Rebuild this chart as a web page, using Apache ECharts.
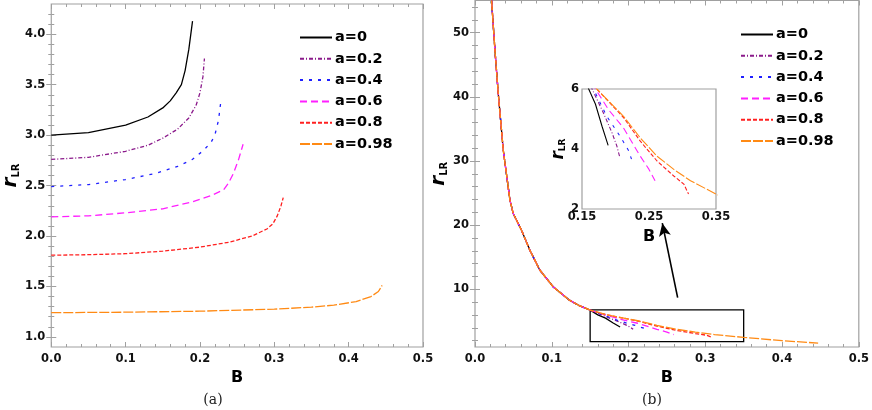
<!DOCTYPE html>
<html>
<head>
<meta charset="UTF-8">
<title>r_LR vs B</title>
<script src="https://cdn.jsdelivr.net/npm/echarts@6/dist/echarts.min.js"></script>
<style>
html, body { margin: 0; padding: 0; background: #fff; }
#main { width: 872px; height: 410px; }
</style>
</head>
<body>
<div id="main"></div>
<script>
var names = ['a=0', 'a=0.2', 'a=0.4', 'a=0.6', 'a=0.8', 'a=0.98'];

// panel (a): [B, r_LR]
var left_a0 = [[0, 3.0], [0.05, 3.025], [0.1, 3.1], [0.13, 3.18], [0.15, 3.27], [0.16, 3.34], [0.168, 3.42], [0.175, 3.5], [0.18, 3.64], [0.185, 3.85], [0.19, 4.13]];
var left_a2 = [[0, 2.76], [0.05, 2.78], [0.1, 2.84], [0.13, 2.9], [0.15, 2.97], [0.17, 3.06], [0.185, 3.17], [0.195, 3.3], [0.2, 3.42], [0.204, 3.58], [0.206, 3.76]];
var left_a4 = [[0, 2.49], [0.05, 2.51], [0.1, 2.56], [0.14, 2.62], [0.17, 2.69], [0.19, 2.76], [0.205, 2.85], [0.215, 2.93], [0.22, 3.0], [0.225, 3.15], [0.228, 3.33]];
var left_a6 = [[0, 2.19], [0.05, 2.2], [0.1, 2.23], [0.15, 2.27], [0.19, 2.34], [0.215, 2.4], [0.232, 2.46], [0.238, 2.52], [0.245, 2.62], [0.252, 2.76], [0.258, 2.91]];
var left_a8 = [[0, 1.81], [0.05, 1.815], [0.1, 1.825], [0.15, 1.85], [0.2, 1.89], [0.24, 1.94], [0.27, 2.0], [0.29, 2.07], [0.298, 2.12], [0.304, 2.2], [0.309, 2.3], [0.312, 2.38]];
var left_a98 = [[0, 1.24], [0.1, 1.245], [0.2, 1.255], [0.3, 1.275], [0.35, 1.295], [0.38, 1.315], [0.41, 1.35], [0.43, 1.4], [0.44, 1.45], [0.445, 1.51]];

// panel (b): common upper branch, then each curve's own tail
var right_head = [[0.0216, 55], [0.026, 47.2], [0.0303, 40.5], [0.0368, 31.7], [0.0455, 23.9], [0.0498, 21.8], [0.0606, 19.2], [0.0714, 16.1], [0.0844, 13.0], [0.1017, 10.4], [0.123, 8.3], [0.135, 7.5], [0.15, 6.75]];
var right_a0 = [[0.16, 6.0], [0.17, 5.5], [0.18, 4.75], [0.189, 4.12]];
var right_a2 = [[0.165, 6.0], [0.182, 5.2], [0.195, 4.53], [0.202, 4.1], [0.206, 3.76]];
var right_a4 = [[0.167, 6.0], [0.187, 5.09], [0.207, 4.42], [0.22, 3.93], [0.226, 3.51]];
var right_a6 = [[0.17, 6.0], [0.19, 5.3], [0.212, 4.7], [0.237, 3.76], [0.25, 3.32], [0.259, 2.94]];
var right_a8 = [[0.172, 6.0], [0.212, 5.05], [0.237, 4.26], [0.262, 3.6], [0.287, 3.1], [0.302, 2.83], [0.309, 2.5]];
var right_a98 = [[0.172, 6.0], [0.212, 5.09], [0.237, 4.37], [0.262, 3.76], [0.287, 3.32], [0.312, 2.94], [0.35, 2.5], [0.4, 1.98], [0.435, 1.7], [0.447, 1.6]];

// zoom box and arrow in panel (b)
var zoomBox = [[0.15, 1.85], [0.35, 6.8]];
var arrowLine = [[0.264, 8.7], [0.244, 20.3]];

// ticks
var xTicks = [0, 0.1, 0.2, 0.3, 0.4, 0.5];
var xMinor = [0.02, 0.04, 0.06, 0.08, 0.12, 0.14, 0.16, 0.18, 0.22, 0.24, 0.26, 0.28, 0.32, 0.34, 0.36, 0.38, 0.42, 0.44, 0.46, 0.48];
var leftYTicks = [1.0, 1.5, 2.0, 2.5, 3.0, 3.5, 4.0];
var leftYMinor = [1.1, 1.2, 1.3, 1.4, 1.6, 1.7, 1.8, 1.9, 2.1, 2.2, 2.3, 2.4, 2.6, 2.7, 2.8, 2.9, 3.1, 3.2, 3.3, 3.4, 3.6, 3.7, 3.8, 3.9, 4.1, 4.2];
var rightYTicks = [10, 20, 30, 40, 50];
var rightYMinor = [2, 4, 6, 8, 12, 14, 16, 18, 22, 24, 26, 28, 32, 34, 36, 38, 42, 44, 46, 48, 52, 54];
var insetXTicks = [0.15, 0.25, 0.35];
var insetYTicks = [2, 4, 6];

var colors = ['#000000', '#8b1a8b', '#1f1fff', '#ff1fff', '#ff2020', '#ff8a14'];
var dashes = ['solid', [4, 2, 1, 2], [3, 6], [7, 4], [4, 2], [10, 2]];

var FONT = 'DejaVu Sans';
var FRAME = '#a0a0a0';

var leftData = [left_a0, left_a2, left_a4, left_a6, left_a8, left_a98];
var rightTails = [right_a0, right_a2, right_a4, right_a6, right_a8, right_a98];

function rName(size, sub) {
    return {
        name: '{r|r}{s|LR}',
        nameTextStyle: {
            rich: {
                r: { fontFamily: FONT, fontStyle: 'italic', fontWeight: 'bold', fontSize: size, color: '#000' },
                s: { fontFamily: FONT, fontWeight: 'bold', fontSize: sub, color: '#000', verticalAlign: 'bottom', padding: [size * 0.35, 0, 0, 0] }
            }
        }
    };
}

// one side of a frame: major ticks (+labels) and a second axis for minor ticks
function side(grid, pos, min, max, major, minor, labels, fmt, extra) {
    var base = {
        gridIndex: grid, type: 'value', position: pos, min: min, max: max,
        axisLine: { show: false }, splitLine: { show: false }
    };
    var main = Object.assign({}, base, {
        axisTick: { show: major.length > 0, inside: true, length: 5, customValues: major, lineStyle: { color: FRAME } },
        axisLabel: {
            show: labels, customValues: major, formatter: fmt, margin: 6,
            fontFamily: FONT, fontWeight: 'bold', fontSize: 11.5, color: '#111'
        }
    }, extra || {});
    var out = [main];
    if (minor) {
        out.push(Object.assign({}, base, {
            axisTick: { show: true, inside: true, length: 3, customValues: minor, lineStyle: { color: FRAME } },
            axisLabel: { show: false }
        }));
    }
    return out;
}

var fx1 = function (v) { return v.toFixed(1); };
var fx2 = function (v) { return v.toFixed(2); };
var fint = function (v) { return String(Math.round(v)); };

var bName = {
    name: 'B', nameLocation: 'middle', nameGap: 21,
    nameTextStyle: { fontFamily: FONT, fontWeight: 'bold', fontSize: 16, color: '#000' }
};

var xAxes = [].concat(
    side(0, 'bottom', 0, 0.5, xTicks, xMinor, true, fx1, bName),            // 0,1
    side(0, 'top', 0, 0.5, xTicks, xMinor, false),                          // 2,3
    side(1, 'bottom', 0, 0.5, xTicks, xMinor, true, fx1, bName),            // 4,5
    side(1, 'top', 0, 0.5, xTicks, xMinor, false),                          // 6,7
    side(2, 'bottom', 0.15, 0.35, insetXTicks, null, true, fx2,
        Object.assign({}, bName, { nameGap: 20 }))                          // 8
);
xAxes[8].axisTick.show = false;
xAxes[8].axisLabel.margin = 2;

var yAxes = [].concat(
    side(0, 'left', 0.9, 4.3, leftYTicks, leftYMinor, true, fx1,
        Object.assign({ nameLocation: 'middle', nameGap: 24, nameRotate: 90 }, rName(20, 10))),   // 0,1
    side(0, 'right', 0.9, 4.3, leftYTicks, leftYMinor, false),                                     // 2,3
    side(1, 'left', 1, 55, rightYTicks, rightYMinor, true, fint,
        Object.assign({ nameLocation: 'middle', nameGap: 22, nameRotate: 90 }, rName(20, 10))),   // 4,5
    side(1, 'right', 1, 55, rightYTicks, rightYMinor, false),                                      // 6,7
    side(2, 'left', 2, 6, insetYTicks, null, true, fint,
        Object.assign({ nameLocation: 'middle', nameGap: 9, nameRotate: 90 }, rName(17, 9)))      // 8
);
yAxes[8].axisTick.show = false;
yAxes[8].axisLabel.margin = 3;

function lineSeries(i, data, xi, yi, width, z) {
    return {
        name: names[i], type: 'line', xAxisIndex: xi, yAxisIndex: yi,
        data: data, symbol: 'none', clip: true, z: z + i,
        lineStyle: { color: colors[i], width: width, type: dashes[i] },
        itemStyle: { color: colors[i] },
        emphasis: { disabled: true }
    };
}

var series = [];
leftData.forEach(function (d, i) { series.push(lineSeries(i, d, 0, 0, 1.3, 3)); });
rightTails.forEach(function (t, i) { series.push(lineSeries(i, right_head.concat(t), 4, 4, 1.3, 3)); });
rightTails.forEach(function (t, i) { series.push(lineSeries(i, right_head.concat(t), 8, 8, 1.1, 20)); });

// box and arrow in panel (b)
series[6].markArea = {
    silent: true,
    itemStyle: { color: 'rgba(0,0,0,0)', borderColor: '#000', borderWidth: 1.3 },
    data: [[{ coord: zoomBox[0] }, { coord: zoomBox[1] }]]
};
series[6].markLine = {
    silent: true, symbol: ['none', 'arrow'], symbolSize: [9, 13],
    label: { show: false },
    lineStyle: { color: '#000', width: 1.6, type: 'solid' },
    data: [[{ coord: arrowLine[0] }, { coord: arrowLine[1] }]]
};

function legendAt(left, top) {
    return {
        left: left, top: top, orient: 'vertical', data: names, padding: 0,
        itemWidth: 32, itemHeight: 14, itemGap: 6.3,
        selectedMode: false,
        itemStyle: { opacity: 0 },
        textStyle: { fontFamily: FONT, fontWeight: 'bold', fontSize: 14.5, color: '#000', padding: [0, 0, 0, -2] }
    };
}

var captionStyle = { fontFamily: 'DejaVu Serif', fontWeight: 'normal', fontSize: 14, color: '#222' };

var option = {
    animation: false,
    backgroundColor: '#fff',
    title: [
        { text: '(a)', left: 213, top: 393, padding: 0, textAlign: 'center', textStyle: captionStyle },
        { text: '(b)', left: 652, top: 393, padding: 0, textAlign: 'center', textStyle: captionStyle }
    ],
    grid: [
        { left: 41, top: 4, width: 382, height: 343, show: true, borderColor: FRAME, borderWidth: 1.2, backgroundColor: 'transparent' },
        { left: 475, top: 0.5, width: 386, height: 346.5, show: true, borderColor: FRAME, borderWidth: 1.2, backgroundColor: 'transparent' },
        { left: 582, top: 89, width: 134, height: 120, show: true, borderColor: FRAME, borderWidth: 1.2, backgroundColor: '#fff', z: 5 }
    ],
    legend: [legendAt(299, 30), legendAt(740, 27)],
    xAxis: xAxes,
    yAxis: yAxes,
    series: series
};

var myChart = echarts.init(document.getElementById('main'));
myChart.setOption(option);
</script>
</body>
</html>
